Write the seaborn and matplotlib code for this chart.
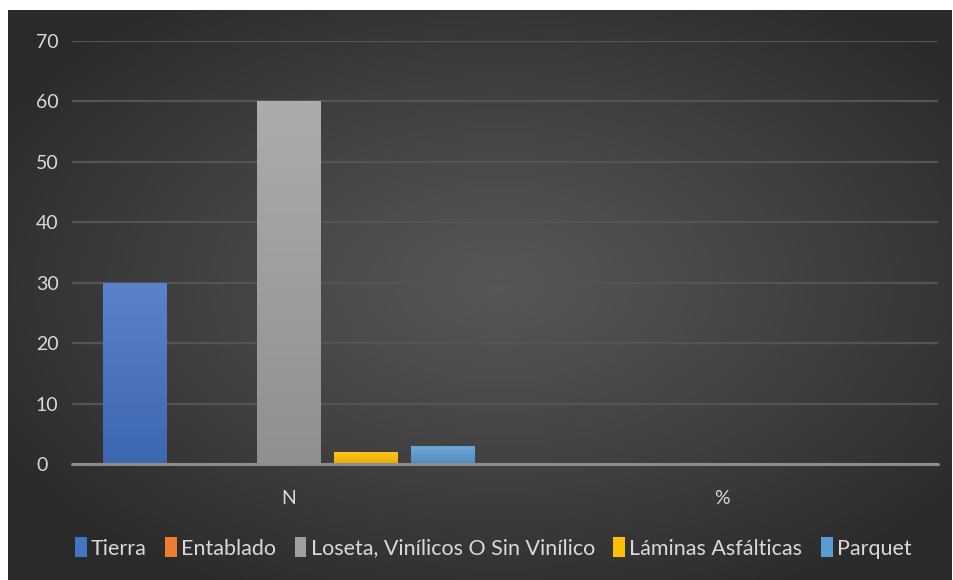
import numpy as np
import pandas as pd
import matplotlib
matplotlib.use("Agg")
import matplotlib.pyplot as plt
import matplotlib.colors as mcolors
import seaborn as sns

categories = ["N", "%"]
series = ["Tierra", "Entablado", "Loseta, Vinílicos O Sin Vinílico", "Láminas Asfálticas", "Parquet"]
tierra = [30, 0]
entablado = [0, 0]
loseta = [60, 0]
laminas = [2, 0]
parquet = [3, 0]
colors = ["#4472c4", "#ed7d31", "#a0a0a0", "#ffc000", "#5b9bd5"]
yticks = [0, 10, 20, 30, 40, 50, 60, 70]

values = [tierra, entablado, loseta, laminas, parquet]
rows = []
for s, vals in zip(series, values):
    for c, v in zip(categories, vals):
        rows.append({"cat": c, "serie": s, "val": v})
df = pd.DataFrame(rows)

sns.set_theme(style="dark")
plt.rcParams["font.family"] = ["Lato", "DejaVu Sans"]
txt = "#d9d9d9"

fig = plt.figure(figsize=(9.54, 5.8), dpi=100)
fig.patch.set_facecolor("white")

# background radial gradient
bg = fig.add_axes([8/954, 0, (952-8)/954, (580-10)/580], zorder=-5)
h, w = 300, 500
yy, xx = np.mgrid[0:h, 0:w]
cx, cy = w*0.52, h*0.48
r = np.sqrt(((xx-cx)/(w*0.62))**2 + ((yy-cy)/(h*0.62))**2)
r = np.clip(r, 0, 1)
g = 0.34 - (0.34-0.165)*r**1.1
img = np.dstack([g, g, g])
bg.imshow(img, aspect="auto", extent=[0, 1, 0, 1])
bg.set_axis_off()

ax = fig.add_axes([72/954, 1-464/580, (938-72)/954, (464-41)/580])
ax.set_facecolor("none")
sns.barplot(data=df, x="cat", y="val", hue="serie", hue_order=series,
            palette=colors, width=0.89, gap=0.18, saturation=1,
            order=categories, ax=ax, legend=True, zorder=3,
            linewidth=0, edgecolor="none")
handles, labels = ax.get_legend_handles_labels()
ax.get_legend().remove()

# gentle vertical gradient on each bar (lighter top, darker bottom)
for p in list(ax.patches):
    hgt = p.get_height()
    if hgt <= 0:
        continue
    base = np.array(mcolors.to_rgb(p.get_facecolor()))
    n = 64
    t = np.linspace(0, 1, n)[:, None]
    top = base * 0.88 + 0.12
    bot = base * 0.9
    grad = top[None, :] * (1 - t) + bot[None, :] * t
    grad = grad[:, None, :]
    x0 = p.get_x()
    im = ax.imshow(grad, extent=[x0, x0 + p.get_width(), 0, hgt],
                   aspect="auto", zorder=3.5, interpolation="bilinear")
    im.set_clip_path(p)
ax.set_xlim(-0.5, 1.5)
ax.set_ylim(0, 70)

ax.set_yticks(yticks)
ax.set_yticklabels([str(t) for t in yticks])
ax.yaxis.grid(True, color="#545454", linewidth=1.6, zorder=0)
ax.xaxis.grid(False)
ax.axhline(0, color="#8c8c8c", linewidth=2.2, zorder=4, clip_on=False)
for sp in ax.spines.values():
    sp.set_visible(False)
ax.set_xlabel("")
ax.set_ylabel("")
ax.tick_params(axis="both", length=0, labelsize=14, colors=txt)
ax.tick_params(axis="x", pad=19)
ax.tick_params(axis="y", pad=26)
for lab in ax.get_yticklabels():
    lab.set_horizontalalignment("left")

leg = fig.legend(handles, labels, loc="center", bbox_to_anchor=(0.517, 1-548/580),
                 ncol=5, frameon=False, fontsize=15.5, handlelength=0.55,
                 handleheight=1.0, handletextpad=0.2, columnspacing=0.85)
for t in leg.get_texts():
    t.set_color(txt)
for hd in leg.legend_handles:
    hd.set_edgecolor("none")
    hd.set_linewidth(0)

fig.savefig("out.png", dpi=100, facecolor=fig.get_facecolor())
